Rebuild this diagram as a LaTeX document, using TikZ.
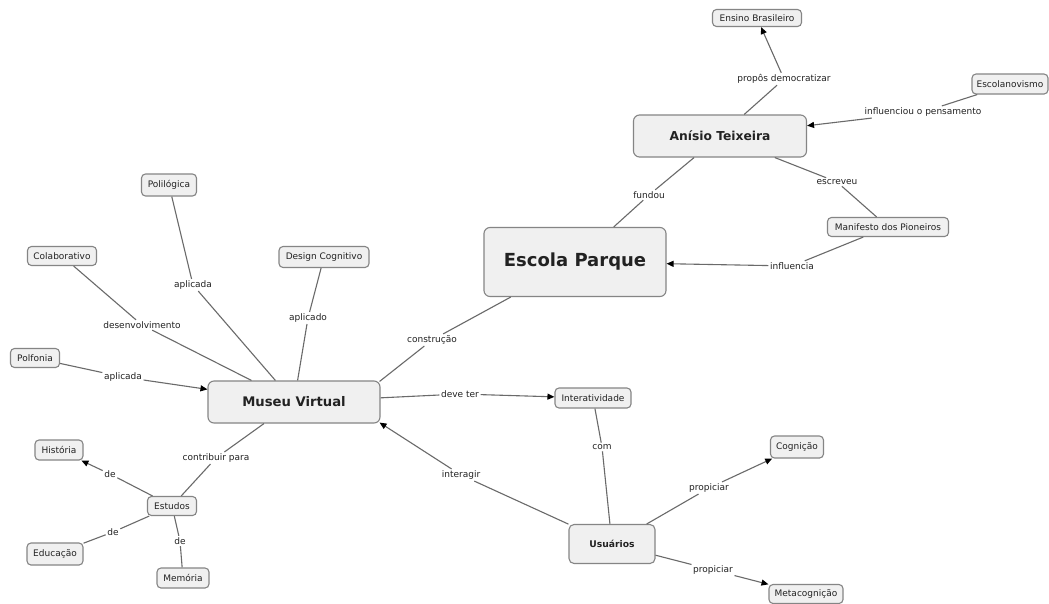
\documentclass[tikz,border=0pt]{standalone}
\usepackage{fontspec}
\setmainfont{DejaVu Sans}
\usetikzlibrary{arrows.meta}
\definecolor{boxfill}{HTML}{F0F0F0}
\definecolor{boxline}{HTML}{858585}
\definecolor{linkcol}{HTML}{6A6A6A}
\definecolor{txt}{HTML}{222222}
\tikzset{
 concept/.style={draw=boxline, line width=1.1pt, fill=boxfill, rounded corners=4pt, text=txt,
   font=\fontsize{9}{10}\selectfont, inner xsep=4pt, inner ysep=0pt, minimum height=19pt},
 bigconcept/.style={concept, rounded corners=6pt, font=\bfseries\fontsize{12.3}{14}\selectfont},
 linklabel/.style={inner sep=1.5pt, text=txt, font=\fontsize{9}{10}\selectfont},
 link/.style={draw=linkcol, line width=1.1pt},
 arr/.style={link, -{Triangle[length=7pt,width=6pt,color=black]}},
}
\begin{document}
\begin{tikzpicture}[x=1pt,y=-1pt]
\fill[white] (0,0) rectangle (1049,603);
\useasboundingbox (0,0) rectangle (1049,603);

% concepts
\node[concept, minimum width=89pt, minimum height=17pt] (ensino) at (757,18) {Ensino Brasileiro};
\node[concept, minimum width=76pt, minimum height=20pt] (escolan) at (1010,84) {Escolanovismo};
\node[bigconcept, minimum width=173pt, minimum height=42pt] (anisio) at (720,136) {Anísio Teixeira};
\node[bigconcept, font=\bfseries\fontsize{18}{20}\selectfont, minimum width=182pt, minimum height=69pt] (escola) at (575,262) {Escola Parque};
\node[concept, minimum width=121pt] (manif) at (888,227) {Manifesto dos Pioneiros};
\node[concept, minimum width=55pt, minimum height=22pt] (polil) at (169,185) {Polilógica};
\node[concept, minimum width=69pt] (colab) at (62,256) {Colaborativo};
\node[concept, minimum width=90pt, minimum height=21pt] (design) at (324,257) {Design Cognitivo};
\node[concept, minimum width=49pt] (polf) at (35,358) {Polfonia};
\node[bigconcept, font=\bfseries\fontsize{13.2}{15}\selectfont, minimum width=172pt, minimum height=42pt] (museu) at (294,402) {Museu Virtual};
\node[concept, minimum width=76pt, minimum height=20pt] (inter) at (593,398) {Interatividade};
\node[concept, minimum width=53pt, minimum height=22pt] (cogn) at (797,447) {Cognição};
\node[concept, font=\bfseries\fontsize{9.2}{10}\selectfont, minimum width=86pt, minimum height=39pt, rounded corners=5pt] (usu) at (612,544) {Usuários};
\node[concept, minimum width=74pt] (meta) at (806,594) {Metacognição};
\node[concept, minimum width=48pt, minimum height=20pt] (hist) at (59,450) {História};
\node[concept, minimum width=49pt] (estud) at (172,506) {Estudos};
\node[concept, minimum width=56pt, minimum height=22pt] (educ) at (55,554) {Educação};
\node[concept, minimum width=52pt, minimum height=20pt] (memo) at (183,578) {Memória};

% link labels
\node[linklabel] (l1) at (784,79) {propôs democratizar};
\node[linklabel] (l2) at (923,112) {influenciou o pensamento};
\node[linklabel] (l3) at (649,195) {fundou};
\node[linklabel] (l4) at (837,182) {escreveu};
\node[linklabel] (l5) at (792,266) {influencia};
\node[linklabel] (l6) at (432,340) {construção};
\node[linklabel] (l7) at (193,285) {aplicada};
\node[linklabel] (l8) at (142,325) {desenvolvimento};
\node[linklabel] (l9) at (308,318) {aplicado};
\node[linklabel] (l10) at (123,377) {aplicada};
\node[linklabel] (l11) at (216,458) {contribuir para};
\node[linklabel] (l12) at (110,474) {de};
\node[linklabel] (l13) at (113,532) {de};
\node[linklabel] (l14) at (180,541) {de};
\node[linklabel] (l15) at (460,394) {deve ter};
\node[linklabel] (l16) at (602,447) {com};
\node[linklabel] (l17) at (461,475) {interagir};
\node[linklabel] (l18) at (709,488) {propiciar};
\node[linklabel] (l19) at (713,570) {propiciar};

\coordinate (museuNE) at ([xshift=-1pt,yshift=-1pt]museu.north east);
\coordinate (museuSE) at ([xshift=-1pt,yshift=1pt]museu.south east);

% connectors
\draw[link] (anisio) -- (l1); \draw[arr] (l1) -- (ensino);
\draw[link] (escolan) -- (l2); \draw[arr] (l2) -- (anisio);
\draw[link] (anisio) -- (l3); \draw[link] (l3) -- (escola);
\draw[link] (anisio) -- (l4); \draw[link] (l4) -- (manif);
\draw[link] (manif) -- (l5); \draw[arr] (l5) -- (escola);
\draw[link] (escola) -- (l6); \draw[link] (l6) -- (museuNE);
\draw[link] (polil) -- (l7); \draw[link] (l7) -- (museu);
\draw[link] (colab) -- (l8); \draw[link] (l8) -- (museu);
\draw[link] (design) -- (l9); \draw[link] (l9) -- (museu);
\draw[link] (polf) -- (l10); \draw[arr] (l10) -- (museu);
\draw[link] (museu) -- (l11); \draw[link] (l11) -- (estud);
\draw[link] (estud) -- (l12); \draw[arr] (l12) -- (hist);
\draw[link] (estud) -- (l13); \draw[link] (l13) -- (educ);
\draw[link] (estud) -- (l14); \draw[link] (l14) -- (memo);
\draw[link] (museu) -- (l15); \draw[arr] (l15) -- (inter);
\draw[link] (inter) -- (l16); \draw[link] (l16) -- (usu);
\draw[link] (usu) -- (l17); \draw[arr] (l17) -- (museuSE);
\draw[link] (usu) -- (l18); \draw[arr] (l18) -- (cogn);
\draw[link] (usu) -- (l19); \draw[arr] (l19) -- (meta);
\end{tikzpicture}
\end{document}
